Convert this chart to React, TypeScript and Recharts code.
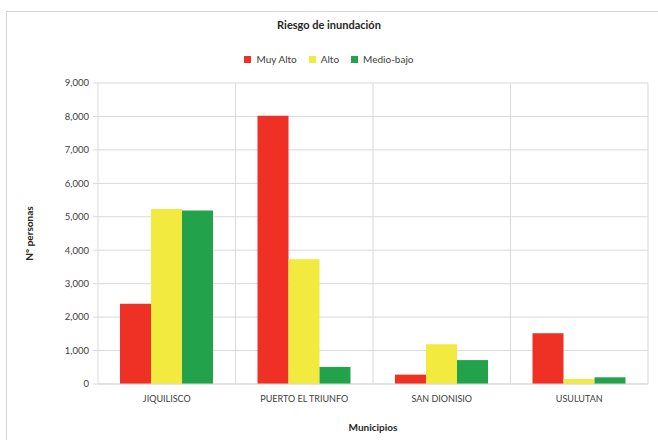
import {
  BarChart,
  Bar,
  XAxis,
  YAxis,
  CartesianGrid,
  Legend,
} from "recharts";

const municipios = ["JIQUILISCO", "PUERTO EL TRIUNFO", "SAN DIONISIO", "USULUTAN"];
const muyAlto = [2400, 8020, 280, 1520];
const alto = [5230, 3730, 1185, 150];
const medioBajo = [5190, 510, 715, 200];
const yTicks = [0, 1000, 2000, 3000, 4000, 5000, 6000, 7000, 8000, 9000];

const series = [
  { key: "Muy Alto", color: "#ee3124" },
  { key: "Alto", color: "#f2ea3e" },
  { key: "Medio-bajo", color: "#22a24b" },
];

const data = municipios.map((m, i) => ({
  municipio: m,
  "Muy Alto": muyAlto[i],
  Alto: alto[i],
  "Medio-bajo": medioBajo[i],
}));

const FONT = "Lato, 'Open Sans', sans-serif";
const GRID = "#d9d9d9";

const renderLegend = () => (
  <div style={{ display: "flex", justifyContent: "center", gap: 12, fontSize: 10, color: "#404040" }}>
    {series.map((s) => (
      <span key={s.key} style={{ display: "inline-flex", alignItems: "center" }}>
        <span style={{ width: 7, height: 7, background: s.color, marginRight: 5, display: "inline-block" }} />
        {s.key}
      </span>
    ))}
  </div>
);

export default function App() {
  return (
    <div
      style={{
        position: "absolute",
        left: 0,
        top: 0,
        width: 658,
        height: 440,
        background: "#fff",
        fontFamily: FONT,
        overflow: "hidden",
      }}
    >
      {/* marco del gráfico */}
      <div
        style={{
          position: "absolute",
          left: 6,
          top: 11,
          width: 660,
          height: 440,
          border: "1px solid #d4d4d4",
        }}
      />
      <div
        style={{
          position: "absolute",
          top: 18,
          left: 0,
          width: 658,
          textAlign: "center",
          fontSize: 11,
          fontWeight: 700,
          color: "#262626",
        }}
      >
        Riesgo de inundación
      </div>
      <BarChart
        width={658}
        height={440}
        data={data}
        margin={{ top: 83, right: 10, bottom: 0, left: 0 }}
        barCategoryGap="16%"
        barGap={0}
        style={{ fontFamily: FONT }}
      >
        <CartesianGrid
          stroke={GRID}
          strokeWidth={1}
          verticalCoordinatesGenerator={({ offset }: any) =>
            municipios.map((_, i) => offset.left + ((i + 1) * offset.width) / municipios.length)
          }
        />
        <XAxis
          dataKey="municipio"
          stroke={GRID}
          tickLine={false}
          tick={{ fontSize: 9, fill: "#404040" }}
          tickMargin={6}
          height={56}
          label={{
            content: ({ viewBox }: any) => (
              <text
                x={viewBox.x + viewBox.width / 2}
                y={431}
                textAnchor="middle"
                fontSize={10}
                fontWeight={700}
                fill="#262626"
                fontFamily={FONT}
              >
                Municipios
              </text>
            ),
          }}
        />
        <YAxis
          width={98}
          domain={[0, 9000]}
          ticks={yTicks}
          interval={0}
          stroke={GRID}
          tickSize={5}
          tickMargin={4}
          tick={{ fontSize: 9.5, fill: "#404040" }}
          tickFormatter={(v: number) => v.toLocaleString("en-US")}
          label={{
            content: ({ viewBox }: any) => {
              const cy = viewBox.y + viewBox.height / 2;
              return (
                <text
                  x={33}
                  y={cy}
                  transform={`rotate(-90, 33, ${cy})`}
                  textAnchor="middle"
                  fontSize={10}
                  fontWeight={700}
                  fill="#262626"
                  fontFamily={FONT}
                >
                  N° personas
                </text>
              );
            },
          }}
        />
        <Legend
          verticalAlign="middle"
          align="center"
          content={renderLegend}
          wrapperStyle={{ top: 53, left: 0, width: 658 }}
        />
        {series.map((s) => (
          <Bar key={s.key} dataKey={s.key} fill={s.color} isAnimationActive={false} />
        ))}
      </BarChart>
    </div>
  );
}
